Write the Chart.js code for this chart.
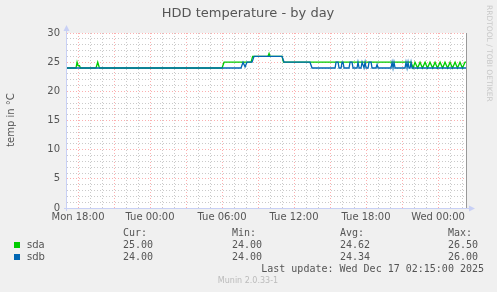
<!DOCTYPE html>
<html>
<head>
<meta charset="utf-8">
<title>HDD temperature - by day</title>
<script src="https://cdn.jsdelivr.net/npm/chart.js@4.4.1/dist/chart.umd.min.js"></script>
<style>
  html, body { margin: 0; padding: 0; background: #f0f0f0; }
  canvas { display: block; }
</style>
</head>
<body>
<canvas id="hddChart" width="497" height="292"></canvas>
<script>
// hours relative to Mon 18:00
const sdaHours = [-0.92, -0.17, -0.08, 0.0, 0.12, 0.2, 1.5, 1.64, 1.78, 12.0, 12.17, 14.42, 14.55,
  15.83, 15.92, 16.0, 17.0, 17.12, 27.75, 27.92, 28.08, 28.3, 28.5, 28.7, 28.92, 29.12, 29.33,
  29.55, 29.75, 29.95, 30.17, 30.38, 30.58, 30.8, 31.0, 31.2, 31.42, 31.62, 31.83, 32.03, 32.25, 32.33];
const sdaTemps = [24, 24, 25, 24.4, 24.4, 24, 24, 25, 24, 24, 25, 25, 26,
  26, 26.5, 26, 26, 25, 25, 24, 25, 24, 25, 24, 25, 24, 25,
  24, 25, 24, 25, 24, 25, 24, 25, 24, 25, 24, 25, 24, 25, 25];

const sdbHours = [-0.92, 13.58, 13.75, 13.92, 14.08, 14.5, 14.67, 17.0, 17.17, 19.33, 19.5,
  21.42, 21.5, 21.67, 21.75, 21.92, 22.0, 22.08, 22.17, 22.58, 22.67, 22.83, 22.92,
  23.25, 23.33, 23.42, 23.58, 23.67, 23.83, 23.92, 24.0, 24.17, 24.25, 24.42, 24.5,
  24.83, 24.92, 25.0, 26.08, 26.17, 26.25, 26.33, 26.42, 27.25, 27.33, 27.42, 27.5, 27.58,
  27.67, 27.75, 27.83, 32.33];
const sdbTemps = [24, 24, 25, 24.2, 25, 25, 26, 26, 25, 25, 24,
  24, 25, 25, 24, 24, 25, 25, 24, 24, 25, 25, 24,
  24, 25, 24, 24, 25, 24, 25, 24, 24, 25, 25, 24,
  24, 24.6, 24, 24, 25, 24, 25, 24, 24, 25, 24, 25, 24,
  24, 25, 24, 24];

const timeTicks = [0, 6, 12, 18, 24, 30];
const timeLabels = ["Mon 18:00", "Tue 00:00", "Tue 06:00", "Tue 12:00", "Tue 18:00", "Wed 00:00"];
const tempLabels = [0, 5, 10, 15, 20, 25, 30];

const legendHeads = ["Cur:", "Min:", "Avg:", "Max:"];
const sdaStats = ["25.00", "24.00", "24.62", "26.50"];
const sdbStats = ["24.00", "24.00", "24.34", "26.00"];

const startHour = -0.92;
const endHour = 32.33;

const GREEN = "#00cc00";
const BLUE = "#0066b3";
const TEXT = "#555555";
const MAJOR = "rgba(250,110,110,0.55)";
const MINOR = "rgba(150,150,150,0.5)";

function toPoints(xs, ys) {
  return xs.map((x, i) => ({ x: x, y: ys[i] }));
}

// background, frame, title and the munin legend
const muninDecor = {
  id: "muninDecor",
  beforeDraw(chart) {
    const { ctx, chartArea: a } = chart;
    ctx.save();
    ctx.fillStyle = "#f0f0f0";
    ctx.fillRect(0, 0, chart.width, chart.height);
    ctx.fillStyle = "#ffffff";
    ctx.fillRect(a.left, a.top, a.right - a.left, a.bottom - a.top);
    ctx.restore();
  },
  afterDraw(chart) {
    const { ctx, chartArea: a } = chart;
    ctx.save();

    // right frame line
    ctx.strokeStyle = "#999999";
    ctx.lineWidth = 1;
    ctx.beginPath();
    ctx.moveTo(a.right + 0.5, a.top);
    ctx.lineTo(a.right + 0.5, a.bottom);
    ctx.stroke();

    // axes with arrows
    ctx.strokeStyle = "#c8d0f5";
    ctx.fillStyle = "#c8d0f5";
    ctx.beginPath();
    ctx.moveTo(a.left - 0.5, a.bottom + 3);
    ctx.lineTo(a.left - 0.5, a.top - 4);
    ctx.moveTo(a.left - 3, a.bottom + 0.5);
    ctx.lineTo(a.right + 5, a.bottom + 0.5);
    ctx.stroke();
    ctx.beginPath();
    ctx.moveTo(a.left - 0.5, a.top - 8);
    ctx.lineTo(a.left - 3.5, a.top - 2);
    ctx.lineTo(a.left + 2.5, a.top - 2);
    ctx.closePath();
    ctx.fill();
    ctx.beginPath();
    ctx.moveTo(a.right + 9, a.bottom + 0.5);
    ctx.lineTo(a.right + 3, a.bottom - 2.5);
    ctx.lineTo(a.right + 3, a.bottom + 3.5);
    ctx.closePath();
    ctx.fill();

    // title
    ctx.fillStyle = TEXT;
    ctx.font = "13px 'DejaVu Sans'";
    ctx.textAlign = "center";
    ctx.textBaseline = "middle";
    ctx.fillText("HDD temperature - by day", 248, 14);

    // y axis title
    ctx.save();
    ctx.translate(11, 120);
    ctx.rotate(-Math.PI / 2);
    ctx.font = "10px 'DejaVu Sans'";
    ctx.fillText("temp in °C", 0, 0);
    ctx.restore();

    // rrdtool credit
    ctx.save();
    ctx.translate(489, 5);
    ctx.rotate(Math.PI / 2);
    ctx.fillStyle = "#c8c8c8";
    ctx.font = "7.5px 'DejaVu Sans'";
    ctx.textAlign = "left";
    ctx.fillText("RRDTOOL / TOBI OETIKER", 0, 0);
    ctx.restore();

    // legend
    const cols = [123, 232, 340, 448];
    ctx.font = "10px 'DejaVu Sans Mono'";
    ctx.textAlign = "left";
    ctx.fillStyle = TEXT;
    legendHeads.forEach((h, i) => ctx.fillText(h, cols[i], 233.5));
    ctx.font = "10px 'DejaVu Sans'";
    ctx.fillText("sda", 27, 245.5);
    ctx.fillText("sdb", 27, 257.5);
    ctx.font = "10px 'DejaVu Sans Mono'";
    sdaStats.forEach((s, i) => ctx.fillText(s, cols[i], 245.5));
    sdbStats.forEach((s, i) => ctx.fillText(s, cols[i], 257.5));
    ctx.fillStyle = GREEN;
    ctx.fillRect(14, 242, 6, 6);
    ctx.fillStyle = BLUE;
    ctx.fillRect(14, 254, 6, 6);

    ctx.fillStyle = TEXT;
    ctx.textAlign = "right";
    ctx.fillText("Last update: Wed Dec 17 02:15:00 2025", 484, 269.5);

    ctx.fillStyle = "#bbbbbb";
    ctx.font = "8px 'DejaVu Sans'";
    ctx.textAlign = "center";
    ctx.fillText("Munin 2.0.33-1", 248, 281);

    ctx.restore();
  }
};

function gridColor(step) {
  return c => (c.tick && Math.round(c.tick.value) % step === 0) ? MAJOR : MINOR;
}

new Chart(document.getElementById("hddChart"), {
  type: "line",
  data: {
    datasets: [
      {
        label: "sda",
        data: toPoints(sdaHours, sdaTemps),
        borderColor: GREEN,
        borderWidth: 1.3,
        pointRadius: 0,
        tension: 0,
        order: 1
      },
      {
        label: "sdb",
        data: toPoints(sdbHours, sdbTemps),
        borderColor: BLUE,
        borderWidth: 1.3,
        pointRadius: 0,
        tension: 0,
        order: 0
      }
    ]
  },
  options: {
    responsive: false,
    animation: false,
    devicePixelRatio: 1,
    layout: { padding: { top: 33, right: 31, bottom: 0, left: 0 } },
    plugins: { legend: { display: false }, title: { display: false }, tooltip: { enabled: false } },
    scales: {
      x: {
        type: "linear",
        min: startHour,
        max: endHour,
        afterBuildTicks: scale => {
          const t = [];
          for (let h = 0; h <= 32; h++) t.push({ value: h });
          scale.ticks = t;
        },
        afterFit: scale => { scale.height = 84; },
        grid: { color: gridColor(3), lineWidth: 1, drawTicks: false },
        border: { display: false, dash: [1, 2] },
        ticks: {
          autoSkip: false,
          maxRotation: 0,
          padding: 3,
          color: TEXT,
          font: { family: "DejaVu Sans", size: 10 },
          callback: v => {
            const i = timeTicks.indexOf(v);
            return i >= 0 ? timeLabels[i] : "";
          }
        }
      },
      y: {
        min: 0,
        max: 30,
        afterBuildTicks: scale => {
          const t = [];
          for (let v = 0; v <= 30; v++) t.push({ value: v });
          scale.ticks = t;
        },
        afterFit: scale => { scale.width = 67; },
        grid: { color: gridColor(5), lineWidth: 1, drawTicks: false },
        border: { display: false, dash: [1, 2] },
        ticks: {
          autoSkip: false,
          padding: 7,
          color: TEXT,
          font: { family: "DejaVu Sans", size: 10 },
          callback: v => tempLabels.includes(v) ? String(v) : ""
        }
      }
    }
  },
  plugins: [muninDecor]
});
</script>
</body>
</html>
